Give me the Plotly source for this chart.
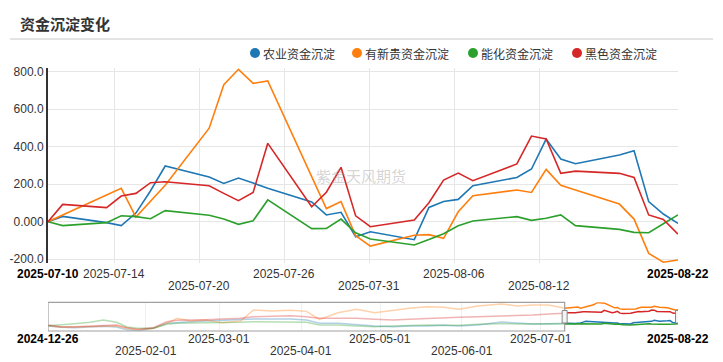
import plotly.graph_objects as go

# ---------------- data ----------------
dates = ["2025-07-10", "2025-07-11", "2025-07-14", "2025-07-15", "2025-07-16", "2025-07-17",
         "2025-07-18", "2025-07-21", "2025-07-22", "2025-07-23", "2025-07-24", "2025-07-25",
         "2025-07-28", "2025-07-29", "2025-07-30", "2025-07-31", "2025-08-01", "2025-08-04",
         "2025-08-05", "2025-08-06", "2025-08-07", "2025-08-08", "2025-08-11", "2025-08-12",
         "2025-08-13", "2025-08-14", "2025-08-15", "2025-08-18", "2025-08-19", "2025-08-20",
         "2025-08-21", "2025-08-22"]

agri = [0, 28, -5, -21, 46, 165, 297, 238, 204, 233, 206, 178, 105, 36, 50, -80, -54, -96,
        76, 108, 119, 192, 236, 281, 441, 334, 309, 356, 379, 107, 41, -9]
metal = [0, 36, 142, 178, 25, 107, 194, 499, 731, 813, 738, 751, 241, 70, 107, -75, -130, -72,
         -69, -89, 53, 139, 169, 156, 279, 194, 169, 94, 14, -169, -216, -204]
energy = [0, -21, -5, 32, 27, 16, 59, 34, 14, -14, 5, 116, -37, -36, 14, -59, -92, -124,
          -95, -64, -22, 4, 27, 7, 18, 36, -21, -41, -57, -59, -11, 36]
black = [0, 92, 75, 137, 151, 208, 213, 192, 151, 112, 156, 418, 80, 157, 290, 31, -27, 9,
         101, 222, 259, 219, 308, 457, 441, 258, 270, 258, 236, 36, 12, -66]

series_names = ["农业资金沉淀", "有新贵资金沉淀", "能化资金沉淀", "黑色资金沉淀"]
series_colors = ["#1f77b4", "#ff7f0e", "#2ca02c", "#d62728"]
series_faded = ["rgba(31,119,180,0.35)", "rgba(255,127,14,0.35)",
                "rgba(44,160,44,0.35)", "rgba(214,39,40,0.35)"]

# navigator history (before the selected window)
nav_dates = ["2024-12-26", "2024-12-31", "2025-01-05", "2025-01-11", "2025-01-16", "2025-01-21",
             "2025-01-25", "2025-01-29", "2025-02-04", "2025-02-09", "2025-02-13", "2025-02-18",
             "2025-02-24", "2025-03-02", "2025-03-09", "2025-03-14", "2025-03-21", "2025-03-28",
             "2025-04-03", "2025-04-08", "2025-04-15", "2025-04-22", "2025-04-29", "2025-05-06",
             "2025-05-12", "2025-05-19", "2025-05-25", "2025-05-31", "2025-06-07", "2025-06-16",
             "2025-06-22", "2025-06-28", "2025-07-04", "2025-07-10"]
nav_agri = [700, 513, 467, 560, 653, 560, 187, 30, 373, 1073, 1213, 1307, 1400, 1493, 1587, 1680,
            1680, 1680, 1540, 1073, 1073, 840, 700, 607, 700, 700, 793, 700, 840, 1260, 1167, 980,
            1027, 1073]
nav_metal = [742, 513, 560, 607, 747, 700, 373, 140, 373, 1073, 1773, 1400, 1540, 1167, 1400, 2940,
             2800, 2900, 2750, 1633, 2567, 3033, 2567, 2940, 3173, 3407, 3313, 3033, 3500, 3780,
             3500, 3640, 3640, 3173]
nav_energy = [742, 933, 1027, 1213, 1540, 1213, 560, 373, 373, 933, 1073, 1120, 1120, 1120, 1213,
              1307, 1307, 1213, 1213, 840, 840, 700, 607, 700, 793, 840, 793, 793, 933, 1027, 980,
              1027, 1027, 980]
nav_black = [840, 607, 607, 700, 840, 840, 467, 233, 467, 1307, 1493, 1493, 1587, 1680, 1773, 2007,
             2100, 2147, 2007, 1773, 1773, 1773, 1633, 1540, 1633, 1773, 1820, 1913, 2007, 2100,
             2100, 2240, 2380, 2473]

y_tick_vals = [-200, 0, 200, 400, 600, 800]
y_tick_text = ["-200.0", "0.000", "200.0", "400.0", "600.0", "800.0"]

main_tick_vals = ["2025-07-14 12:45", "2025-07-20 08:00", "2025-07-26 03:00",
                  "2025-07-31 22:00", "2025-08-06 17:15", "2025-08-12 12:30"]
main_tick_text = ["2025-07-14", "2025-07-20", "2025-07-26", "2025-07-31", "2025-08-06", "2025-08-12"]
main_tick_row = [1, 2, 1, 2, 1, 2]

nav_tick_vals = ["2025-02-01", "2025-03-01", "2025-04-01", "2025-05-01", "2025-06-01", "2025-07-01"]
nav_tick_text = ["2025-02-01", "2025-03-01", "2025-04-01", "2025-05-01", "2025-06-01", "2025-07-01"]
nav_tick_row = [2, 1, 2, 1, 2, 1]

main_start, main_end = dates[0], dates[-1]
nav_start = nav_dates[0]

# ---------------- geometry helpers (pixel -> paper) ----------------
W, H = 723, 362
L, R, T, B = 48, 45, 68, 31
PW, PH = W - L - R, H - T - B


def px(x):
    return (x - L) / PW


def py(y):
    return (H - B - y) / PH


FONT = "Liberation Sans, Arial, sans-serif"
CJK = "Noto Sans CJK SC, sans-serif"

fig = go.Figure()

main_series = [agri, metal, energy, black]
nav_series = [nav_agri, nav_metal, nav_energy, nav_black]

for vals, col, name in zip(main_series, series_colors, series_names):
    fig.add_trace(go.Scatter(x=dates, y=vals, mode="lines", name=name,
                             line=dict(color=col, width=1.6), xaxis="x", yaxis="y",
                             showlegend=False))

for hist, vals, col, fcol in zip(nav_series, main_series, series_colors, series_faded):
    fig.add_trace(go.Scatter(x=nav_dates, y=hist, mode="lines", line=dict(color=fcol, width=1.5),
                             xaxis="x2", yaxis="y2", showlegend=False, hoverinfo="skip"))
    base = hist[-1]
    fig.add_trace(go.Scatter(x=dates, y=[base + v for v in vals], mode="lines",
                             line=dict(color=col, width=1.5),
                             xaxis="x2", yaxis="y2", showlegend=False, hoverinfo="skip"))

Y_MIN, Y_MAX = -222, 820
main_dom_bottom = py(263.3)
nav_dom_top = py(302.3)

fig.update_layout(
    width=W, height=H, margin=dict(l=L, r=R, t=T, b=B, autoexpand=False),
    paper_bgcolor="white", plot_bgcolor="white",
    font=dict(family=FONT, size=12, color="#333"),
    xaxis=dict(domain=[0, 1], anchor="y", type="date", range=[main_start, main_end],
               tickvals=main_tick_vals, showticklabels=False, showgrid=True,
               gridcolor="#e6e6e6", gridwidth=1, zeroline=False, showline=False, ticks=""),
    yaxis=dict(domain=[main_dom_bottom, 1], anchor="x", range=[Y_MIN, Y_MAX],
               tickvals=y_tick_vals, ticktext=y_tick_text, showgrid=True,
               gridcolor="#e6e6e6", gridwidth=1, zeroline=False, showline=True,
               linecolor="#333", linewidth=2, ticks="", tickfont=dict(size=12, color="#333")),
    xaxis2=dict(domain=[0, 1], anchor="y2", type="date", range=[nav_start, main_end],
                tickvals=nav_tick_vals, showticklabels=False, showgrid=True,
                gridcolor="#f0f0f0", zeroline=False, showline=False, ticks=""),
    yaxis2=dict(domain=[0, nav_dom_top], anchor="x2", range=[0, 4020], visible=False),
)

shapes = []
# underline of title
shapes.append(dict(type="line", xref="paper", yref="paper", x0=px(10), x1=px(713),
                   y0=py(39), y1=py(39), line=dict(color="#c8c8c8", width=1)))
# navigator unselected box
shapes.append(dict(type="rect", xref="x2", yref="y2 domain", x0=nav_start, x1=main_start,
                   y0=0, y1=1, line=dict(color="#a0a0a0", width=1.2), fillcolor="rgba(0,0,0,0)"))
# navigator handles
for d in [main_start, main_end]:
    shapes.append(dict(type="rect", xref="x2", yref="y2 domain", xsizemode="pixel", xanchor=d,
                       x0=-2.5, x1=2.5, y0=(331 - 323) / 28.7, y1=(331 - 310.5) / 28.7,
                       line=dict(color="#888", width=1), fillcolor="#f4f4f4"))

annotations = []
# title
annotations.append(dict(xref="paper", yref="paper", x=px(18), y=py(24), xanchor="left",
                        yanchor="middle", showarrow=False, text="<b>资金沉淀变化</b>",
                        font=dict(family=CJK, size=15, color="#333")))
# legend
legend_cx = [255, 357, 473, 577]
for cx, name, col in zip(legend_cx, series_names, series_colors):
    shapes.append(dict(type="circle", xref="paper", yref="paper", xsizemode="pixel",
                       ysizemode="pixel", xanchor=px(cx), yanchor=py(53), x0=-5, x1=5,
                       y0=-5, y1=5, fillcolor=col, line=dict(width=0)))
    annotations.append(dict(xref="paper", yref="paper", x=px(cx + 6), y=py(53), xanchor="left",
                            yanchor="middle", showarrow=False, text=name,
                            font=dict(family=CJK, size=12, color="#333")))
# watermark
annotations.append(dict(xref="paper", yref="paper", x=px(361), y=py(175), xanchor="center",
                        yanchor="middle", showarrow=False, text="紫金天风期货",
                        font=dict(family=CJK, size=15, color="rgba(160,160,160,0.45)")))

row_y_main = {1: py(274), 2: py(286)}
row_y_nav = {1: py(339), 2: py(351)}

for v, t, r in zip(main_tick_vals, main_tick_text, main_tick_row):
    annotations.append(dict(xref="x", yref="paper", x=v, y=row_y_main[r], xanchor="center",
                            yanchor="middle", showarrow=False, text=t,
                            font=dict(family=FONT, size=12, color="#333")))
for d in [main_start, main_end]:
    annotations.append(dict(xref="x", yref="paper", x=d, y=row_y_main[1], xanchor="center",
                            yanchor="middle", showarrow=False, text="<b>" + d + "</b>",
                            font=dict(family=FONT, size=12, color="#000")))
for v, t, r in zip(nav_tick_vals, nav_tick_text, nav_tick_row):
    annotations.append(dict(xref="x2", yref="paper", x=v, y=row_y_nav[r], xanchor="center",
                            yanchor="middle", showarrow=False, text=t,
                            font=dict(family=FONT, size=12, color="#333")))
for d in [nav_start, main_end]:
    annotations.append(dict(xref="x2", yref="paper", x=d, y=row_y_nav[1], xanchor="center",
                            yanchor="middle", showarrow=False, text="<b>" + d + "</b>",
                            font=dict(family=FONT, size=12, color="#000")))

fig.update_layout(shapes=shapes, annotations=annotations)
fig.write_html("out.html", config={"displayModeBar": False},
               post_script="document.body.style.margin='0';document.body.style.padding='0';")
